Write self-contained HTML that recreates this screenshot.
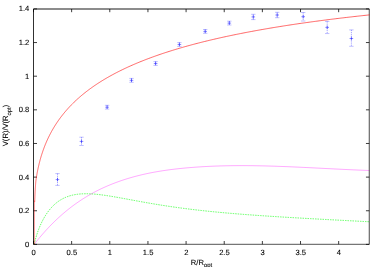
<!DOCTYPE html>
<html><head><meta charset="utf-8"><title>plot</title>
<style>
html,body{margin:0;padding:0;background:#fff;}
body{width:382px;height:267px;overflow:hidden;font-family:"Liberation Sans",sans-serif;}
svg{display:block;}
.t{filter:grayscale(1);}
text{text-rendering:geometricPrecision;font-family:"Liberation Sans",sans-serif;font-size:7.6px;fill:#000;stroke:#000;stroke-width:0.1px;}
</style></head><body>
<svg width="382" height="267" viewBox="0 0 382 267">
<rect width="382" height="267" fill="#fff"/>
<g fill="none" stroke-linecap="butt">
<path d="M34.30 244.20 L35.05 243.25 L35.79 242.31 L36.54 241.37 L37.28 240.45 L38.03 239.54 L38.78 238.63 L39.52 237.74 L40.27 236.85 L41.01 235.97 L41.76 235.10 L42.50 234.24 L43.25 233.39 L44.00 232.54 L44.74 231.71 L45.49 230.88 L46.23 230.06 L46.98 229.25 L47.73 228.45 L48.47 227.66 L49.22 226.87 L49.96 226.09 L50.71 225.32 L51.46 224.56 L52.20 223.81 L52.95 223.06 L53.69 222.32 L54.44 221.59 L55.18 220.87 L55.93 220.16 L56.68 219.45 L57.42 218.75 L58.17 218.05 L58.91 217.37 L59.66 216.69 L60.41 216.02 L61.15 215.36 L61.90 214.70 L62.64 214.05 L63.39 213.41 L64.14 212.77 L64.88 212.14 L65.63 211.52 L66.37 210.91 L67.12 210.30 L67.86 209.70 L68.61 209.10 L69.36 208.51 L70.10 207.93 L70.85 207.36 L71.59 206.79 L72.34 206.23 L73.09 205.67 L73.83 205.12 L74.58 204.57 L75.32 204.04 L76.07 203.50 L76.82 202.98 L77.56 202.46 L78.31 201.94 L79.05 201.44 L79.80 200.93 L80.54 200.44 L81.29 199.95 L82.04 199.46 L82.78 198.98 L83.53 198.51 L84.27 198.04 L85.02 197.57 L85.77 197.11 L86.51 196.66 L87.26 196.21 L88.00 195.77 L88.75 195.33 L89.50 194.90 L90.24 194.48 L90.99 194.05 L91.73 193.64 L92.48 193.22 L93.22 192.82 L93.97 192.42 L94.72 192.02 L95.46 191.63 L96.21 191.24 L96.95 190.86 L97.70 190.48 L98.45 190.10 L99.19 189.73 L99.94 189.37 L100.68 189.01 L101.43 188.65 L102.18 188.30 L102.92 187.95 L103.67 187.61 L104.41 187.27 L105.16 186.94 L105.90 186.61 L106.65 186.28 L107.40 185.96 L108.14 185.64 L108.89 185.33 L109.63 185.02 L110.38 184.71 L111.13 184.41 L111.87 184.11 L112.62 183.81 L113.36 183.52 L114.11 183.23 L114.86 182.95 L115.60 182.67 L116.35 182.39 L117.09 182.12 L117.84 181.85 L118.58 181.58 L119.33 181.32 L120.08 181.05 L120.82 180.80 L121.57 180.54 L122.31 180.29 L123.06 180.04 L123.81 179.80 L124.55 179.56 L125.30 179.32 L126.04 179.08 L126.79 178.85 L127.53 178.62 L128.28 178.39 L129.03 178.17 L129.77 177.95 L130.52 177.73 L131.26 177.52 L132.01 177.30 L132.76 177.09 L133.50 176.89 L134.25 176.68 L134.99 176.48 L135.74 176.28 L136.49 176.09 L137.23 175.90 L137.98 175.71 L138.72 175.52 L139.47 175.33 L140.21 175.15 L140.96 174.97 L141.71 174.79 L142.45 174.62 L143.20 174.45 L143.94 174.28 L144.69 174.11 L145.44 173.94 L146.18 173.78 L146.93 173.62 L147.67 173.46 L148.42 173.31 L149.17 173.15 L149.91 173.00 L150.66 172.85 L151.40 172.71 L152.15 172.56 L152.89 172.42 L153.64 172.28 L154.39 172.14 L155.13 172.01 L155.88 171.88 L156.62 171.74 L157.37 171.61 L158.12 171.49 L158.86 171.36 L159.61 171.24 L160.35 171.12 L161.10 171.00 L161.85 170.88 L162.59 170.76 L163.34 170.65 L164.08 170.54 L164.83 170.43 L165.57 170.32 L166.32 170.21 L167.07 170.11 L167.81 170.00 L168.56 169.90 L169.30 169.80 L170.05 169.70 L170.80 169.61 L171.54 169.51 L172.29 169.42 L173.03 169.33 L173.78 169.24 L174.53 169.15 L175.27 169.06 L176.02 168.98 L176.76 168.89 L177.51 168.81 L178.25 168.73 L179.00 168.65 L179.75 168.57 L180.49 168.49 L181.24 168.41 L181.98 168.34 L182.73 168.26 L183.48 168.19 L184.22 168.12 L184.97 168.05 L185.71 167.98 L186.46 167.91 L187.21 167.85 L187.95 167.78 L188.70 167.72 L189.44 167.65 L190.19 167.59 L190.93 167.53 L191.68 167.47 L192.43 167.41 L193.17 167.35 L193.92 167.30 L194.66 167.24 L195.41 167.18 L196.16 167.13 L196.90 167.08 L197.65 167.03 L198.39 166.98 L199.14 166.93 L199.89 166.88 L200.63 166.83 L201.38 166.79 L202.12 166.74 L202.87 166.70 L203.61 166.65 L204.36 166.61 L205.11 166.57 L205.85 166.53 L206.60 166.49 L207.34 166.45 L208.09 166.41 L208.84 166.38 L209.58 166.34 L210.33 166.31 L211.07 166.27 L211.82 166.24 L212.57 166.21 L213.31 166.18 L214.06 166.15 L214.80 166.12 L215.55 166.09 L216.29 166.06 L217.04 166.04 L217.79 166.01 L218.53 165.99 L219.28 165.96 L220.02 165.94 L220.77 165.92 L221.52 165.90 L222.26 165.88 L223.01 165.86 L223.75 165.84 L224.50 165.82 L225.25 165.80 L225.99 165.79 L226.74 165.77 L227.48 165.76 L228.23 165.75 L228.97 165.73 L229.72 165.72 L230.47 165.71 L231.21 165.70 L231.96 165.69 L232.70 165.68 L233.45 165.67 L234.20 165.66 L234.94 165.66 L235.69 165.65 L236.43 165.65 L237.18 165.64 L237.93 165.64 L238.67 165.63 L239.42 165.63 L240.16 165.63 L240.91 165.63 L241.65 165.63 L242.40 165.63 L243.15 165.63 L243.89 165.63 L244.64 165.63 L245.38 165.64 L246.13 165.64 L246.88 165.65 L247.62 165.65 L248.37 165.66 L249.11 165.66 L249.86 165.67 L250.61 165.68 L251.35 165.68 L252.10 165.69 L252.84 165.70 L253.59 165.71 L254.33 165.72 L255.08 165.73 L255.83 165.75 L256.57 165.76 L257.32 165.77 L258.06 165.78 L258.81 165.80 L259.56 165.81 L260.30 165.83 L261.05 165.84 L261.79 165.86 L262.54 165.87 L263.29 165.89 L264.03 165.91 L264.78 165.93 L265.52 165.95 L266.27 165.96 L267.01 165.98 L267.76 166.00 L268.51 166.02 L269.25 166.05 L270.00 166.07 L270.74 166.09 L271.49 166.11 L272.24 166.13 L272.98 166.16 L273.73 166.18 L274.47 166.20 L275.22 166.23 L275.97 166.25 L276.71 166.28 L277.46 166.30 L278.20 166.33 L278.95 166.36 L279.69 166.38 L280.44 166.41 L281.19 166.44 L281.93 166.46 L282.68 166.49 L283.42 166.52 L284.17 166.55 L284.92 166.58 L285.66 166.61 L286.41 166.64 L287.15 166.67 L287.90 166.70 L288.64 166.73 L289.39 166.76 L290.14 166.79 L290.88 166.82 L291.63 166.85 L292.37 166.89 L293.12 166.92 L293.87 166.95 L294.61 166.98 L295.36 167.02 L296.10 167.05 L296.85 167.08 L297.60 167.12 L298.34 167.15 L299.09 167.19 L299.83 167.22 L300.58 167.26 L301.32 167.29 L302.07 167.33 L302.82 167.36 L303.56 167.40 L304.31 167.43 L305.05 167.47 L305.80 167.50 L306.55 167.54 L307.29 167.58 L308.04 167.61 L308.78 167.65 L309.53 167.69 L310.28 167.72 L311.02 167.76 L311.77 167.80 L312.51 167.83 L313.26 167.87 L314.00 167.91 L314.75 167.95 L315.50 167.98 L316.24 168.02 L316.99 168.06 L317.73 168.10 L318.48 168.13 L319.23 168.17 L319.97 168.21 L320.72 168.25 L321.46 168.29 L322.21 168.32 L322.96 168.36 L323.70 168.40 L324.45 168.44 L325.19 168.47 L325.94 168.51 L326.68 168.55 L327.43 168.59 L328.18 168.63 L328.92 168.66 L329.67 168.70 L330.41 168.74 L331.16 168.78 L331.91 168.82 L332.65 168.85 L333.40 168.89 L334.14 168.93 L334.89 168.97 L335.64 169.00 L336.38 169.04 L337.13 169.08 L337.87 169.11 L338.62 169.15 L339.36 169.19 L340.11 169.22 L340.86 169.26 L341.60 169.30 L342.35 169.33 L343.09 169.37 L343.84 169.41 L344.59 169.44 L345.33 169.48 L346.08 169.51 L346.82 169.55 L347.57 169.58 L348.32 169.62 L349.06 169.65 L349.81 169.69 L350.55 169.72 L351.30 169.76 L352.04 169.79 L352.79 169.82 L353.54 169.86 L354.28 169.89 L355.03 169.92 L355.77 169.96 L356.52 169.99 L357.27 170.02 L358.01 170.05 L358.76 170.08 L359.50 170.12 L360.25 170.15 L361.00 170.18 L361.74 170.21 L362.49 170.24 L363.23 170.27 L363.98 170.30 L364.72 170.33 L365.47 170.36 L366.22 170.38 L366.96 170.41 L367.71 170.44 L368.45 170.47 L369.20 170.49" stroke="#ff00ff" stroke-width="0.7" stroke-opacity="0.5"/>
<path d="M34.30 244.20 L35.05 240.85 L35.79 238.03 L36.54 235.51 L37.29 233.21 L38.03 231.07 L38.78 229.08 L39.53 227.22 L40.27 225.45 L41.02 223.79 L41.76 222.22 L42.51 220.72 L43.26 219.31 L44.00 217.96 L44.75 216.67 L45.50 215.45 L46.24 214.29 L46.99 213.18 L47.74 212.12 L48.48 211.11 L49.23 210.14 L49.98 209.22 L50.72 208.35 L51.47 207.51 L52.22 206.71 L52.96 205.94 L53.71 205.22 L54.45 204.52 L55.20 203.86 L55.95 203.23 L56.69 202.63 L57.44 202.05 L58.19 201.51 L58.93 200.99 L59.68 200.49 L60.43 200.02 L61.17 199.57 L61.92 199.15 L62.67 198.75 L63.41 198.37 L64.16 198.00 L64.90 197.66 L65.65 197.34 L66.40 197.03 L67.14 196.75 L67.89 196.48 L68.64 196.22 L69.38 195.98 L70.13 195.76 L70.88 195.55 L71.62 195.35 L72.37 195.17 L73.12 195.00 L73.86 194.85 L74.61 194.70 L75.36 194.57 L76.10 194.45 L76.85 194.34 L77.59 194.24 L78.34 194.15 L79.09 194.07 L79.83 194.00 L80.58 193.94 L81.33 193.89 L82.07 193.85 L82.82 193.81 L83.57 193.79 L84.31 193.77 L85.06 193.75 L85.81 193.75 L86.55 193.75 L87.30 193.76 L88.05 193.77 L88.79 193.79 L89.54 193.82 L90.28 193.85 L91.03 193.89 L91.78 193.93 L92.52 193.98 L93.27 194.03 L94.02 194.08 L94.76 194.15 L95.51 194.21 L96.26 194.28 L97.00 194.35 L97.75 194.43 L98.50 194.51 L99.24 194.60 L99.99 194.68 L100.73 194.77 L101.48 194.87 L102.23 194.96 L102.97 195.06 L103.72 195.17 L104.47 195.27 L105.21 195.38 L105.96 195.48 L106.71 195.60 L107.45 195.71 L108.20 195.82 L108.95 195.94 L109.69 196.06 L110.44 196.18 L111.19 196.30 L111.93 196.43 L112.68 196.55 L113.42 196.68 L114.17 196.80 L114.92 196.93 L115.66 197.06 L116.41 197.19 L117.16 197.32 L117.90 197.45 L118.65 197.59 L119.40 197.72 L120.14 197.86 L120.89 197.99 L121.64 198.13 L122.38 198.26 L123.13 198.40 L123.88 198.54 L124.62 198.67 L125.37 198.81 L126.11 198.95 L126.86 199.09 L127.61 199.22 L128.35 199.36 L129.10 199.50 L129.85 199.64 L130.59 199.78 L131.34 199.91 L132.09 200.05 L132.83 200.19 L133.58 200.33 L134.33 200.47 L135.07 200.60 L135.82 200.74 L136.56 200.88 L137.31 201.01 L138.06 201.15 L138.80 201.29 L139.55 201.42 L140.30 201.56 L141.04 201.69 L141.79 201.83 L142.54 201.96 L143.28 202.09 L144.03 202.23 L144.78 202.36 L145.52 202.49 L146.27 202.62 L147.02 202.75 L147.76 202.88 L148.51 203.01 L149.25 203.14 L150.00 203.27 L150.75 203.40 L151.49 203.53 L152.24 203.66 L152.99 203.78 L153.73 203.91 L154.48 204.03 L155.23 204.16 L155.97 204.28 L156.72 204.40 L157.47 204.53 L158.21 204.65 L158.96 204.77 L159.71 204.89 L160.45 205.01 L161.20 205.13 L161.94 205.24 L162.69 205.36 L163.44 205.48 L164.18 205.59 L164.93 205.71 L165.68 205.82 L166.42 205.94 L167.17 206.05 L167.92 206.16 L168.66 206.28 L169.41 206.39 L170.16 206.50 L170.90 206.61 L171.65 206.71 L172.39 206.82 L173.14 206.93 L173.89 207.04 L174.63 207.14 L175.38 207.25 L176.13 207.35 L176.87 207.46 L177.62 207.56 L178.37 207.66 L179.11 207.76 L179.86 207.86 L180.61 207.96 L181.35 208.06 L182.10 208.16 L182.85 208.26 L183.59 208.36 L184.34 208.46 L185.08 208.55 L185.83 208.65 L186.58 208.74 L187.32 208.84 L188.07 208.93 L188.82 209.02 L189.56 209.12 L190.31 209.21 L191.06 209.30 L191.80 209.39 L192.55 209.48 L193.30 209.57 L194.04 209.66 L194.79 209.74 L195.54 209.83 L196.28 209.92 L197.03 210.00 L197.77 210.09 L198.52 210.18 L199.27 210.26 L200.01 210.34 L200.76 210.43 L201.51 210.51 L202.25 210.59 L203.00 210.67 L203.75 210.75 L204.49 210.83 L205.24 210.91 L205.99 210.99 L206.73 211.07 L207.48 211.15 L208.22 211.23 L208.97 211.30 L209.72 211.38 L210.46 211.46 L211.21 211.53 L211.96 211.61 L212.70 211.68 L213.45 211.75 L214.20 211.83 L214.94 211.90 L215.69 211.97 L216.44 212.05 L217.18 212.12 L217.93 212.19 L218.68 212.26 L219.42 212.33 L220.17 212.40 L220.91 212.47 L221.66 212.54 L222.41 212.60 L223.15 212.67 L223.90 212.74 L224.65 212.81 L225.39 212.87 L226.14 212.94 L226.89 213.01 L227.63 213.07 L228.38 213.14 L229.13 213.20 L229.87 213.26 L230.62 213.33 L231.37 213.39 L232.11 213.45 L232.86 213.52 L233.60 213.58 L234.35 213.64 L235.10 213.70 L235.84 213.76 L236.59 213.83 L237.34 213.89 L238.08 213.95 L238.83 214.01 L239.58 214.06 L240.32 214.12 L241.07 214.18 L241.82 214.24 L242.56 214.30 L243.31 214.36 L244.05 214.41 L244.80 214.47 L245.55 214.53 L246.29 214.58 L247.04 214.64 L247.79 214.70 L248.53 214.75 L249.28 214.81 L250.03 214.86 L250.77 214.92 L251.52 214.97 L252.27 215.03 L253.01 215.08 L253.76 215.13 L254.51 215.19 L255.25 215.24 L256.00 215.29 L256.74 215.35 L257.49 215.40 L258.24 215.45 L258.98 215.50 L259.73 215.55 L260.48 215.60 L261.22 215.66 L261.97 215.71 L262.72 215.76 L263.46 215.81 L264.21 215.86 L264.96 215.91 L265.70 215.96 L266.45 216.01 L267.20 216.06 L267.94 216.11 L268.69 216.16 L269.43 216.20 L270.18 216.25 L270.93 216.30 L271.67 216.35 L272.42 216.40 L273.17 216.44 L273.91 216.49 L274.66 216.54 L275.41 216.59 L276.15 216.63 L276.90 216.68 L277.65 216.73 L278.39 216.77 L279.14 216.82 L279.88 216.87 L280.63 216.91 L281.38 216.96 L282.12 217.00 L282.87 217.05 L283.62 217.10 L284.36 217.14 L285.11 217.19 L285.86 217.23 L286.60 217.28 L287.35 217.32 L288.10 217.36 L288.84 217.41 L289.59 217.45 L290.34 217.50 L291.08 217.54 L291.83 217.59 L292.57 217.63 L293.32 217.67 L294.07 217.72 L294.81 217.76 L295.56 217.80 L296.31 217.85 L297.05 217.89 L297.80 217.93 L298.55 217.98 L299.29 218.02 L300.04 218.06 L300.79 218.10 L301.53 218.15 L302.28 218.19 L303.03 218.23 L303.77 218.27 L304.52 218.31 L305.26 218.36 L306.01 218.40 L306.76 218.44 L307.50 218.48 L308.25 218.52 L309.00 218.56 L309.74 218.61 L310.49 218.65 L311.24 218.69 L311.98 218.73 L312.73 218.77 L313.48 218.81 L314.22 218.85 L314.97 218.89 L315.71 218.93 L316.46 218.97 L317.21 219.02 L317.95 219.06 L318.70 219.10 L319.45 219.14 L320.19 219.18 L320.94 219.22 L321.69 219.26 L322.43 219.30 L323.18 219.34 L323.93 219.38 L324.67 219.42 L325.42 219.46 L326.17 219.50 L326.91 219.54 L327.66 219.58 L328.40 219.62 L329.15 219.66 L329.90 219.70 L330.64 219.74 L331.39 219.78 L332.14 219.82 L332.88 219.86 L333.63 219.89 L334.38 219.93 L335.12 219.97 L335.87 220.01 L336.62 220.05 L337.36 220.09 L338.11 220.13 L338.86 220.17 L339.60 220.21 L340.35 220.25 L341.09 220.29 L341.84 220.33 L342.59 220.37 L343.33 220.41 L344.08 220.44 L344.83 220.48 L345.57 220.52 L346.32 220.56 L347.07 220.60 L347.81 220.64 L348.56 220.68 L349.31 220.72 L350.05 220.76 L350.80 220.80 L351.54 220.83 L352.29 220.87 L353.04 220.91 L353.78 220.95 L354.53 220.99 L355.28 221.03 L356.02 221.07 L356.77 221.11 L357.52 221.15 L358.26 221.19 L359.01 221.22 L359.76 221.26 L360.50 221.30 L361.25 221.34 L362.00 221.38 L362.74 221.42 L363.49 221.46 L364.23 221.50 L364.98 221.54 L365.73 221.57 L366.47 221.61 L367.22 221.65 L367.97 221.69 L368.71 221.73 L369.46 221.77" stroke="#00ff00" stroke-width="0.75" stroke-opacity="0.8" stroke-dasharray="1.5 1"/>
<g stroke="#000" stroke-width="0.9" stroke-opacity="0.85"><path d="M33.50 244.30V241.00M33.50 9.00V12.20"/><path d="M71.64 244.30V241.00M71.64 9.00V12.20"/><path d="M109.79 244.30V241.00M109.79 9.00V12.20"/><path d="M147.94 244.30V241.00M147.94 9.00V12.20"/><path d="M186.08 244.30V241.00M186.08 9.00V12.20"/><path d="M224.23 244.30V241.00M224.23 9.00V12.20"/><path d="M262.37 244.30V241.00M262.37 9.00V12.20"/><path d="M300.52 244.30V241.00M300.52 9.00V12.20"/><path d="M338.66 244.30V241.00M338.66 9.00V12.20"/><path d="M33.50 244.40H37.00M369.25 244.40H365.95"/><path d="M33.50 210.76H37.00M369.25 210.76H365.95"/><path d="M33.50 177.12H37.00M369.25 177.12H365.95"/><path d="M33.50 143.48H37.00M369.25 143.48H365.95"/><path d="M33.50 109.84H37.00M369.25 109.84H365.95"/><path d="M33.50 76.20H37.00M369.25 76.20H365.95"/><path d="M33.50 42.56H37.00M369.25 42.56H365.95"/><path d="M33.50 8.92H37.00M369.25 8.92H365.95"/></g>
<path d="M33.50 9.00H369.25" stroke="#000" stroke-width="1" stroke-opacity="0.9"/>
<path d="M33.50 244.30H369.25" stroke="#000" stroke-width="0.8" stroke-opacity="0.85"/>
<path d="M33.50 9.00V244.30" stroke="#000" stroke-width="0.9" stroke-opacity="0.9"/>
<path d="M369.25 9.00V244.30" stroke="#000" stroke-width="0.9" stroke-opacity="0.8"/>
 <path d="M34.50 244.30V200.58" stroke="#ff0000" stroke-width="0.8" stroke-opacity="0.45"/>
<path d="M34.68 202.08 L34.69 201.89 L34.70 201.69 L34.70 201.49 L34.71 201.29 L34.71 201.09 L34.72 200.89 L34.73 200.68 L34.73 200.48 L34.74 200.27 L34.75 200.07 L34.75 199.86 L34.76 199.65 L34.77 199.45 L34.78 199.24 L34.78 199.03 L34.79 198.81 L34.80 198.60 L34.81 198.39 L34.81 198.17 L34.82 197.96 L34.83 197.74 L34.84 197.52 L34.85 197.30 L34.86 197.08 L34.87 196.86 L34.87 196.64 L34.88 196.42 L34.89 196.20 L34.90 195.97 L34.91 195.74 L34.92 195.52 L34.93 195.29 L34.94 195.06 L34.95 194.83 L34.96 194.60 L34.97 194.37 L34.98 194.13 L35.00 193.90 L35.01 193.66 L35.02 193.43 L35.03 193.19 L35.04 192.95 L35.05 192.71 L35.07 192.47 L35.08 192.22 L35.09 191.98 L35.10 191.74 L35.12 191.49 L35.13 191.24 L35.14 191.00 L35.16 190.75 L35.17 190.50 L35.19 190.24 L35.20 189.99 L35.22 189.74 L35.23 189.48 L35.25 189.23 L35.26 188.97 L35.28 188.71 L35.29 188.45 L35.31 188.19 L35.33 187.93 L35.35 187.66 L35.36 187.40 L35.38 187.13 L35.40 186.86 L35.42 186.60 L35.44 186.33 L35.45 186.05 L35.47 185.78 L35.49 185.51 L35.51 185.23 L35.53 184.96 L35.55 184.68 L35.58 184.40 L35.60 184.12 L35.62 183.84 L35.64 183.56 L35.66 183.27 L35.69 182.99 L35.71 182.70 L35.73 182.41 L35.76 182.12 L35.78 181.83 L35.80 181.57 L35.81 181.54 L35.83 181.25 L35.86 180.95 L35.88 180.72 L35.91 180.53 L35.94 180.34 L35.97 180.15 L35.99 179.96 L36.02 179.77 L36.05 179.57 L36.08 179.38 L36.11 179.18 L36.14 178.97 L36.17 178.77 L36.21 178.56 L36.24 178.35 L36.27 178.14 L36.31 177.93 L36.34 177.71 L36.37 177.50 L36.41 177.28 L36.45 177.05 L36.48 176.83 L36.52 176.60 L36.56 176.38 L36.60 176.14 L36.63 175.91 L36.67 175.68 L36.72 175.44 L36.76 175.20 L36.80 174.96 L36.84 174.71 L36.88 174.46 L36.92 174.24 L36.93 174.22 L36.97 173.96 L37.02 173.71 L37.07 173.45 L37.11 173.20 L37.16 172.93 L37.21 172.67 L37.26 172.41 L37.31 172.14 L37.36 171.87 L37.42 171.60 L37.47 171.32 L37.52 171.04 L37.58 170.76 L37.64 170.48 L37.69 170.20 L37.75 169.91 L37.81 169.62 L37.87 169.33 L37.93 169.03 L38.00 168.74 L38.04 168.51 L38.06 168.44 L38.12 168.14 L38.19 167.83 L38.26 167.53 L38.33 167.22 L38.40 166.91 L38.47 166.59 L38.54 166.28 L38.61 165.96 L38.69 165.64 L38.76 165.31 L38.84 164.99 L38.92 164.66 L39.00 164.32 L39.08 163.99 L39.16 163.65 L39.16 163.64 L39.24 163.31 L39.33 162.97 L39.42 162.63 L39.51 162.28 L39.60 161.93 L39.69 161.58 L39.78 161.23 L39.87 160.87 L39.97 160.51 L40.07 160.15 L40.17 159.78 L40.27 159.41 L40.28 159.37 L40.37 159.04 L40.48 158.67 L40.59 158.29 L40.70 157.91 L40.81 157.53 L40.92 157.15 L41.03 156.76 L41.15 156.37 L41.27 155.98 L41.39 155.59 L41.40 155.55 L41.51 155.19 L41.64 154.79 L41.77 154.39 L41.89 153.98 L42.03 153.58 L42.16 153.16 L42.30 152.75 L42.44 152.33 L42.52 152.08 L42.58 151.92 L42.72 151.49 L42.87 151.07 L43.02 150.64 L43.17 150.21 L43.32 149.78 L43.48 149.34 L43.64 148.91 L43.64 148.89 L43.80 148.46 L43.96 148.02 L44.13 147.57 L44.30 147.12 L44.48 146.67 L44.65 146.22 L44.76 145.94 L44.83 145.76 L45.02 145.30 L45.20 144.83 L45.39 144.37 L45.59 143.90 L45.78 143.43 L45.88 143.19 L45.98 142.95 L46.18 142.48 L46.39 142.00 L46.60 141.51 L46.82 141.03 L47.00 140.61 L47.03 140.54 L47.25 140.05 L47.48 139.55 L47.71 139.05 L47.94 138.55 L48.12 138.17 L48.18 138.05 L48.42 137.55 L48.67 137.04 L48.92 136.53 L49.17 136.01 L49.24 135.87 L49.43 135.49 L49.69 134.97 L49.96 134.45 L50.23 133.93 L50.36 133.68 L50.51 133.40 L50.79 132.87 L51.08 132.33 L51.37 131.80 L51.48 131.60 L51.67 131.26 L51.97 130.71 L52.28 130.17 L52.59 129.62 L52.60 129.61 L52.91 129.07 L53.24 128.52 L53.57 127.96 L53.72 127.70 L53.90 127.40 L54.24 126.84 L54.59 126.27 L54.84 125.87 L54.94 125.71 L55.30 125.14 L55.67 124.56 L55.96 124.11 L56.04 123.99 L56.42 123.41 L56.81 122.83 L57.08 122.42 L57.20 122.25 L57.60 121.66 L58.00 121.07 L58.20 120.79 L58.42 120.48 L58.84 119.88 L59.26 119.29 L59.32 119.21 L59.70 118.69 L60.14 118.08 L60.44 117.68 L60.59 117.48 L61.05 116.87 L61.52 116.26 L61.56 116.20 L61.99 115.65 L62.47 115.03 L62.68 114.77 L62.97 114.41 L63.46 113.79 L63.80 113.38 L63.97 113.17 L64.49 112.54 L64.92 112.03 L65.02 111.91 L65.55 111.28 L66.04 110.72 L66.10 110.65 L66.65 110.01 L67.16 109.44 L67.22 109.37 L67.79 108.73 L68.28 108.19 L68.37 108.09 L68.97 107.44 L69.40 106.98 L69.57 106.80 L70.19 106.14 L70.52 105.80 L70.81 105.49 L71.45 104.84 L71.64 104.64 L72.10 104.18 L72.76 103.52 L72.76 103.52 L73.43 102.86 L73.88 102.42 L74.11 102.19 L74.81 101.52 L75.00 101.34 L75.51 100.86 L76.12 100.29 L76.23 100.18 L76.96 99.51 L77.24 99.26 L77.71 98.83 L78.36 98.25 L78.46 98.16 L79.23 97.48 L79.48 97.26 L80.02 96.80 L80.60 96.30 L80.81 96.11 L81.63 95.42 L81.72 95.35 L82.45 94.74 L82.84 94.42 L83.29 94.05 L83.96 93.51 L84.15 93.35 L85.02 92.66 L85.08 92.61 L85.90 91.96 L86.20 91.73 L86.80 91.27 L87.32 90.87 L87.72 90.57 L88.44 90.03 L88.65 89.87 L89.56 89.19 L89.60 89.16 L90.56 88.46 L90.68 88.38 L91.54 87.75 L91.80 87.57 L92.54 87.04 L92.91 86.78 L93.56 86.33 L94.03 86.00 L94.59 85.62 L95.15 85.24 L95.64 84.91 L96.27 84.48 L96.72 84.19 L97.39 83.74 L97.80 83.48 L98.51 83.01 L98.91 82.76 L99.63 82.30 L100.04 82.04 L100.75 81.59 L101.19 81.32 L101.87 80.89 L102.35 80.59 L102.99 80.20 L103.54 79.87 L104.11 79.53 L104.75 79.15 L105.23 78.86 L105.98 78.42 L106.35 78.20 L107.23 77.69 L107.47 77.55 L108.50 76.96 L108.59 76.91 L109.71 76.28 L109.80 76.23 L110.83 75.66 L111.12 75.50 L111.95 75.05 L112.46 74.77 L113.07 74.44 L113.82 74.04 L114.19 73.84 L115.21 73.30 L115.31 73.25 L116.43 72.67 L116.62 72.57 L117.55 72.09 L118.06 71.83 L118.67 71.52 L119.52 71.10 L119.79 70.96 L120.91 70.41 L121.01 70.36 L122.03 69.86 L122.52 69.62 L123.15 69.32 L124.06 68.88 L124.27 68.78 L125.39 68.25 L125.63 68.14 L126.51 67.73 L127.22 67.40 L127.63 67.21 L128.75 66.70 L128.84 66.66 L129.87 66.20 L130.49 65.92 L130.99 65.70 L132.11 65.20 L132.17 65.18 L133.23 64.72 L133.88 64.43 L134.35 64.23 L135.47 63.76 L135.62 63.69 L136.59 63.28 L137.39 62.95 L137.71 62.82 L138.83 62.35 L139.19 62.21 L139.95 61.89 L141.02 61.46 L141.07 61.44 L142.19 60.99 L142.88 60.72 L143.31 60.55 L144.43 60.11 L144.77 59.97 L145.55 59.67 L146.67 59.24 L146.70 59.23 L147.79 58.82 L148.66 58.49 L148.91 58.40 L150.03 57.98 L150.66 57.74 L151.15 57.56 L152.27 57.15 L152.69 57.00 L153.39 56.75 L154.50 56.35 L154.76 56.26 L155.62 55.95 L156.74 55.55 L156.86 55.51 L157.86 55.16 L158.98 54.77 L159.00 54.77 L160.10 54.39 L161.18 54.03 L161.22 54.01 L162.34 53.63 L163.39 53.28 L163.46 53.26 L164.58 52.89 L165.65 52.54 L165.70 52.52 L166.82 52.16 L167.94 51.80 L167.94 51.80 L169.06 51.44 L170.18 51.09 L170.27 51.06 L171.30 50.74 L172.42 50.39 L172.65 50.32 L173.54 50.04 L174.66 49.70 L175.06 49.58 L175.78 49.36 L176.90 49.02 L177.52 48.84 L178.02 48.69 L179.14 48.36 L180.02 48.10 L180.26 48.03 L181.38 47.70 L182.50 47.38 L182.56 47.36 L183.62 47.06 L184.74 46.74 L185.15 46.63 L185.86 46.43 L186.98 46.11 L187.78 45.89 L188.10 45.80 L189.22 45.50 L190.34 45.19 L190.46 45.16 L191.46 44.89 L192.58 44.59 L193.19 44.42 L193.70 44.29 L194.82 43.99 L195.94 43.70 L195.96 43.69 L197.06 43.41 L198.18 43.12 L198.79 42.96 L199.30 42.83 L200.42 42.55 L201.54 42.26 L201.66 42.23 L202.66 41.98 L203.78 41.70 L204.58 41.50 L204.90 41.43 L206.02 41.15 L207.14 40.88 L207.55 40.78 L208.26 40.61 L209.38 40.34 L210.50 40.07 L210.58 40.05 L211.62 39.81 L212.74 39.54 L213.65 39.33 L213.86 39.28 L214.98 39.02 L216.09 38.77 L216.79 38.61 L217.21 38.51 L218.33 38.26 L219.45 38.00 L219.97 37.89 L220.57 37.75 L221.69 37.50 L222.81 37.26 L223.21 37.17 L223.93 37.01 L225.05 36.77 L226.17 36.53 L226.51 36.45 L227.29 36.28 L228.41 36.05 L229.53 35.81 L229.87 35.74 L230.65 35.57 L231.77 35.34 L232.89 35.11 L233.28 35.03 L234.01 34.88 L235.13 34.65 L236.25 34.42 L236.75 34.32 L237.37 34.19 L238.49 33.97 L239.61 33.74 L240.29 33.61 L240.73 33.52 L241.85 33.30 L242.97 33.08 L243.89 32.90 L244.09 32.86 L245.21 32.65 L246.33 32.43 L247.45 32.22 L247.55 32.20 L248.57 32.00 L249.69 31.79 L250.81 31.58 L251.27 31.50 L251.93 31.37 L253.05 31.17 L254.17 30.96 L255.06 30.80 L255.29 30.76 L256.41 30.55 L257.53 30.35 L258.65 30.15 L258.91 30.10 L259.77 29.95 L260.89 29.75 L262.01 29.55 L262.83 29.41 L263.13 29.36 L264.25 29.16 L265.37 28.97 L266.49 28.78 L266.82 28.72 L267.61 28.58 L268.73 28.39 L269.85 28.20 L270.88 28.03 L270.97 28.02 L272.09 27.83 L273.21 27.64 L274.33 27.46 L275.01 27.34 L275.45 27.27 L276.57 27.09 L277.68 26.91 L278.80 26.73 L279.22 26.66 L279.92 26.55 L281.04 26.37 L282.16 26.19 L283.28 26.02 L283.49 25.98 L284.40 25.84 L285.52 25.66 L286.64 25.49 L287.76 25.32 L287.84 25.31 L288.88 25.15 L290.00 24.98 L291.12 24.81 L292.24 24.64 L292.27 24.63 L293.36 24.47 L294.48 24.30 L295.60 24.14 L296.72 23.97 L296.77 23.96 L297.84 23.81 L298.96 23.64 L300.08 23.48 L301.20 23.32 L301.36 23.30 L302.32 23.16 L303.44 23.00 L304.56 22.84 L305.68 22.68 L306.02 22.63 L306.80 22.52 L307.92 22.37 L309.04 22.21 L310.16 22.06 L310.76 21.97 L311.28 21.90 L312.40 21.75 L313.52 21.60 L314.64 21.45 L315.59 21.32 L315.76 21.30 L316.88 21.15 L318.00 21.00 L319.12 20.85 L320.24 20.70 L320.50 20.67 L321.36 20.55 L322.48 20.41 L323.60 20.26 L324.72 20.12 L325.50 20.02 L325.84 19.97 L326.96 19.83 L328.08 19.69 L329.20 19.55 L330.32 19.40 L330.58 19.37 L331.44 19.26 L332.56 19.12 L333.68 18.99 L334.80 18.85 L335.76 18.73 L335.92 18.71 L337.04 18.57 L338.16 18.44 L339.27 18.30 L340.39 18.17 L341.02 18.09 L341.51 18.03 L342.63 17.90 L343.75 17.77 L344.87 17.64 L345.99 17.50 L346.38 17.46 L347.11 17.37 L348.23 17.24 L349.35 17.11 L350.47 16.99 L351.59 16.86 L351.83 16.83 L352.71 16.73 L353.83 16.60 L354.95 16.48 L356.07 16.35 L357.19 16.23 L357.37 16.21 L358.31 16.10 L359.43 15.98 L360.55 15.85 L361.67 15.73 L362.79 15.61 L363.01 15.59 L363.91 15.49 L365.03 15.37 L366.15 15.25 L367.27 15.13 L368.39 15.01 L368.75 14.97 L369.51 14.89" stroke="#ff0000" stroke-width="0.75" stroke-opacity="0.8" stroke-linejoin="round"/>
<g stroke="#0000ff" stroke-width="0.6" stroke-opacity="0.6">
<line x1="57.50" y1="173.60" x2="57.50" y2="185.40" stroke-dasharray="1.2 0.9"/><line x1="55.30" y1="173.60" x2="59.70" y2="173.60" stroke-opacity="0.42"/><line x1="55.30" y1="185.40" x2="59.70" y2="185.40" stroke-opacity="0.42"/><path d="M55.70 179.60H59.30M57.50 177.80V181.40" stroke-dasharray="none" stroke-opacity="0.78"/>
<line x1="81.50" y1="137.20" x2="81.50" y2="145.50" stroke-dasharray="1.2 0.9"/><line x1="79.30" y1="137.20" x2="83.70" y2="137.20" stroke-opacity="0.42"/><line x1="79.30" y1="145.50" x2="83.70" y2="145.50" stroke-opacity="0.42"/><path d="M79.70 141.40H83.30M81.50 139.60V143.20" stroke-dasharray="none" stroke-opacity="0.78"/>
<line x1="107.10" y1="105.30" x2="107.10" y2="109.10" stroke-dasharray="1.2 0.9"/><line x1="104.90" y1="105.30" x2="109.30" y2="105.30" stroke-opacity="0.42"/><line x1="104.90" y1="109.10" x2="109.30" y2="109.10" stroke-opacity="0.42"/><path d="M105.30 107.20H108.90M107.10 105.40V109.00" stroke-dasharray="none" stroke-opacity="0.78"/>
<line x1="131.50" y1="78.40" x2="131.50" y2="82.30" stroke-dasharray="1.2 0.9"/><line x1="129.30" y1="78.40" x2="133.70" y2="78.40" stroke-opacity="0.42"/><line x1="129.30" y1="82.30" x2="133.70" y2="82.30" stroke-opacity="0.42"/><path d="M129.70 80.35H133.30M131.50 78.55V82.15" stroke-dasharray="none" stroke-opacity="0.78"/>
<line x1="155.60" y1="61.60" x2="155.60" y2="65.40" stroke-dasharray="1.2 0.9"/><line x1="153.40" y1="61.60" x2="157.80" y2="61.60" stroke-opacity="0.42"/><line x1="153.40" y1="65.40" x2="157.80" y2="65.40" stroke-opacity="0.42"/><path d="M153.80 63.50H157.40M155.60 61.70V65.30" stroke-dasharray="none" stroke-opacity="0.78"/>
<line x1="179.40" y1="42.60" x2="179.40" y2="46.40" stroke-dasharray="1.2 0.9"/><line x1="177.20" y1="42.60" x2="181.60" y2="42.60" stroke-opacity="0.42"/><line x1="177.20" y1="46.40" x2="181.60" y2="46.40" stroke-opacity="0.42"/><path d="M177.60 44.50H181.20M179.40 42.70V46.30" stroke-dasharray="none" stroke-opacity="0.78"/>
<line x1="205.20" y1="29.50" x2="205.20" y2="33.30" stroke-dasharray="1.2 0.9"/><line x1="203.00" y1="29.50" x2="207.40" y2="29.50" stroke-opacity="0.42"/><line x1="203.00" y1="33.30" x2="207.40" y2="33.30" stroke-opacity="0.42"/><path d="M203.40 31.40H207.00M205.20 29.60V33.20" stroke-dasharray="none" stroke-opacity="0.78"/>
<line x1="229.30" y1="21.20" x2="229.30" y2="25.00" stroke-dasharray="1.2 0.9"/><line x1="227.10" y1="21.20" x2="231.50" y2="21.20" stroke-opacity="0.42"/><line x1="227.10" y1="25.00" x2="231.50" y2="25.00" stroke-opacity="0.42"/><path d="M227.50 23.10H231.10M229.30 21.30V24.90" stroke-dasharray="none" stroke-opacity="0.78"/>
<line x1="253.30" y1="14.30" x2="253.30" y2="19.60" stroke-dasharray="1.2 0.9"/><line x1="251.10" y1="14.30" x2="255.50" y2="14.30" stroke-opacity="0.42"/><line x1="251.10" y1="19.60" x2="255.50" y2="19.60" stroke-opacity="0.42"/><path d="M251.50 16.90H255.10M253.30 15.10V18.70" stroke-dasharray="none" stroke-opacity="0.78"/>
<line x1="277.20" y1="12.30" x2="277.20" y2="17.70" stroke-dasharray="1.2 0.9"/><line x1="275.00" y1="12.30" x2="279.40" y2="12.30" stroke-opacity="0.42"/><line x1="275.00" y1="17.70" x2="279.40" y2="17.70" stroke-opacity="0.42"/><path d="M275.40 15.00H279.00M277.20 13.20V16.80" stroke-dasharray="none" stroke-opacity="0.78"/>
<line x1="303.20" y1="12.50" x2="303.20" y2="21.00" stroke-dasharray="1.2 0.9"/><line x1="301.00" y1="12.50" x2="305.40" y2="12.50" stroke-opacity="0.42"/><line x1="301.00" y1="21.00" x2="305.40" y2="21.00" stroke-opacity="0.42"/><path d="M301.40 16.70H305.00M303.20 14.90V18.50" stroke-dasharray="none" stroke-opacity="0.78"/>
<line x1="327.20" y1="21.45" x2="327.20" y2="33.55" stroke-dasharray="1.2 0.9"/><line x1="325.00" y1="21.45" x2="329.40" y2="21.45" stroke-opacity="0.42"/><line x1="325.00" y1="33.55" x2="329.40" y2="33.55" stroke-opacity="0.42"/><path d="M325.40 27.40H329.00M327.20 25.60V29.20" stroke-dasharray="none" stroke-opacity="0.78"/>
<line x1="351.40" y1="29.90" x2="351.40" y2="46.30" stroke-dasharray="1.2 0.9"/><line x1="349.20" y1="29.90" x2="353.60" y2="29.90" stroke-opacity="0.42"/><line x1="349.20" y1="46.30" x2="353.60" y2="46.30" stroke-opacity="0.42"/><path d="M349.60 38.50H353.20M351.40 36.70V40.30" stroke-dasharray="none" stroke-opacity="0.78"/>
</g>
</g>
<g class="t"><text x="33.70" y="254.6" text-anchor="middle">0</text><text x="71.84" y="254.6" text-anchor="middle">0.5</text><text x="109.99" y="254.6" text-anchor="middle">1</text><text x="148.14" y="254.6" text-anchor="middle">1.5</text><text x="186.28" y="254.6" text-anchor="middle">2</text><text x="224.43" y="254.6" text-anchor="middle">2.5</text><text x="262.57" y="254.6" text-anchor="middle">3</text><text x="300.72" y="254.6" text-anchor="middle">3.5</text><text x="338.86" y="254.6" text-anchor="middle">4</text>
<text x="29.3" y="246.85" text-anchor="end">0</text><text x="29.3" y="213.21" text-anchor="end">0.2</text><text x="29.3" y="179.57" text-anchor="end">0.4</text><text x="29.3" y="145.93" text-anchor="end">0.6</text><text x="29.3" y="112.29" text-anchor="end">0.8</text><text x="29.3" y="78.65" text-anchor="end">1</text><text x="29.3" y="45.01" text-anchor="end">1.2</text><text x="29.3" y="11.37" text-anchor="end">1.4</text>
<text x="190.8" y="264.6" font-size="7.4">R/R<tspan font-size="5.9" dy="2.3">opt</tspan></text>
<text transform="translate(8.4 146.2) rotate(-90)" font-size="7.2">V(R)/V(R<tspan font-size="5.8" dy="2.3">opt</tspan><tspan dy="-2.3" font-size="7.2">)</tspan></text>
</g>
</svg>
</body></html>
